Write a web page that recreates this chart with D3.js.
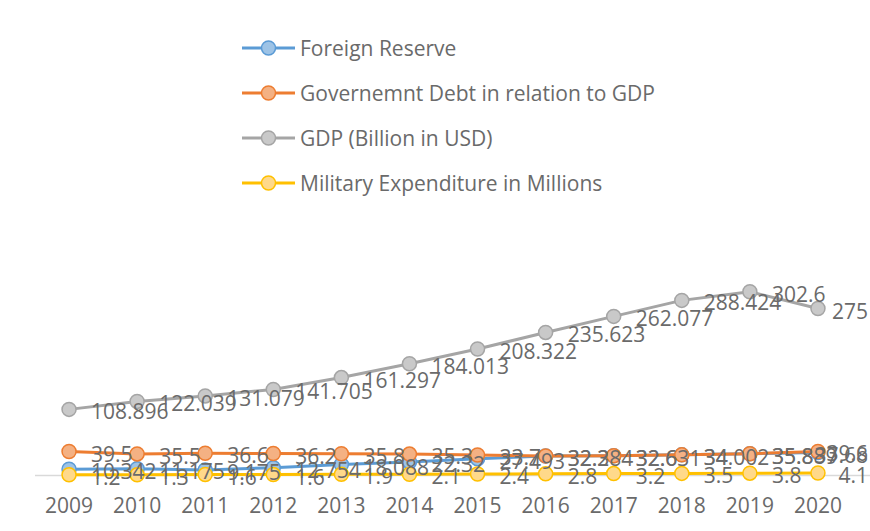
<!DOCTYPE html>
<html>
<head>
<meta charset="utf-8">
<script src="https://cdn.jsdelivr.net/npm/d3@7"></script>
<style>
  body { margin: 0; background: #fff; }
  svg { display: block; font-family: "Open Sans", sans-serif; }
</style>
</head>
<body>
<svg id="chart" width="870" height="531"></svg>
<script>
const years = ['2009', '2010', '2011', '2012', '2013', '2014', '2015', '2016', '2017', '2018', '2019', '2020'];
const seriesNames = [
  'Foreign Reserve',
  'Governemnt Debt in relation to GDP',
  'GDP (Billion in USD)',
  'Military Expenditure in Millions'
];
const foreignReserve = [10.342, 11.175, 9.175, 12.754, 18.088, 22.32, 27.493, 32.284, 32.631, 34.002, 35.889, 37.68];
const governmentDebt = [39.5, 35.5, 36.6, 36.2, 35.8, 35.3, 33.7, 32.3, 32.6, 34.0, 35.8, 39.6];
const gdp = [108.896, 122.039, 131.079, 141.705, 161.297, 184.013, 208.322, 235.623, 262.077, 288.424, 302.6, 275];
const militaryExpenditure = [1.2, 1.3, 1.6, 1.6, 1.9, 2.1, 2.4, 2.8, 3.2, 3.5, 3.8, 4.1];

const strokes = ['#5b9bd5', '#ed7d31', '#a5a5a5', '#ffc000'];
const fills = ['#9dc3e6', '#f4b183', '#c9c9c9', '#ffd98a'];
const textColor = '#6a6a6a';

const width = 870;
const height = 531;
const svg = d3.select('#chart');

const x = d3.scaleBand().domain(years).range([35, 852]);
const cx = d => x(d) + x.bandwidth() / 2;
const y = d3.scaleLinear().domain([0, 350]).range([475.5, 263]);

const series = [foreignReserve, governmentDebt, gdp, militaryExpenditure].map((values, i) => ({
  name: seriesNames[i],
  stroke: strokes[i],
  fill: fills[i],
  points: values.map((v, j) => ({ year: years[j], value: v }))
}));

// category axis line
svg.append('line')
  .attr('x1', 35).attr('x2', width)
  .attr('y1', y(0)).attr('y2', y(0))
  .attr('stroke', '#d9d9d9')
  .attr('stroke-width', 1.3);

// year labels
svg.append('g')
  .selectAll('text')
  .data(years)
  .join('text')
  .attr('x', cx)
  .attr('y', 505)
  .attr('text-anchor', 'middle')
  .attr('dominant-baseline', 'central')
  .attr('font-size', 21)
  .attr('fill', textColor)
  .text(d => d);

const line = d3.line()
  .x(d => cx(d.year))
  .y(d => y(d.value));

const seriesG = svg.append('g')
  .selectAll('g')
  .data(series)
  .join('g');

seriesG.append('path')
  .attr('d', d => line(d.points))
  .attr('fill', 'none')
  .attr('stroke', d => d.stroke)
  .attr('stroke-width', 3)
  .attr('stroke-linejoin', 'round');

seriesG.selectAll('circle')
  .data(d => d.points.map(p => ({ ...p, s: d })))
  .join('circle')
  .attr('cx', d => cx(d.year))
  .attr('cy', d => y(d.value))
  .attr('r', 7)
  .attr('fill', d => d.s.fill)
  .attr('stroke', d => d.s.stroke)
  .attr('stroke-width', 1.5);

// data labels, right of the point, kept inside the chart
const labels = svg.append('g')
  .selectAll('g')
  .data(series)
  .join('g')
  .selectAll('text')
  .data(d => d.points)
  .join('text')
  .attr('y', d => y(d.value) + 2)
  .attr('dominant-baseline', 'central')
  .attr('font-size', 21)
  .attr('fill', textColor)
  .text(d => String(d.value));

labels.attr('x', function(d) {
  const w = this.getComputedTextLength();
  return Math.min(cx(d.year) + 22, width - 2 - w);
});

// legend
const legend = svg.append('g')
  .selectAll('g')
  .data(series)
  .join('g')
  .attr('transform', (d, i) => `translate(242, ${48 + i * 45})`);

legend.append('line')
  .attr('x1', 0).attr('x2', 53)
  .attr('stroke', d => d.stroke)
  .attr('stroke-width', 3);

legend.append('circle')
  .attr('cx', 26.5)
  .attr('r', 7)
  .attr('fill', d => d.fill)
  .attr('stroke', d => d.stroke)
  .attr('stroke-width', 1.5);

legend.append('text')
  .attr('x', 58)
  .attr('dominant-baseline', 'central')
  .attr('font-size', 21)
  .attr('fill', textColor)
  .text(d => d.name);
</script>
</body>
</html>
